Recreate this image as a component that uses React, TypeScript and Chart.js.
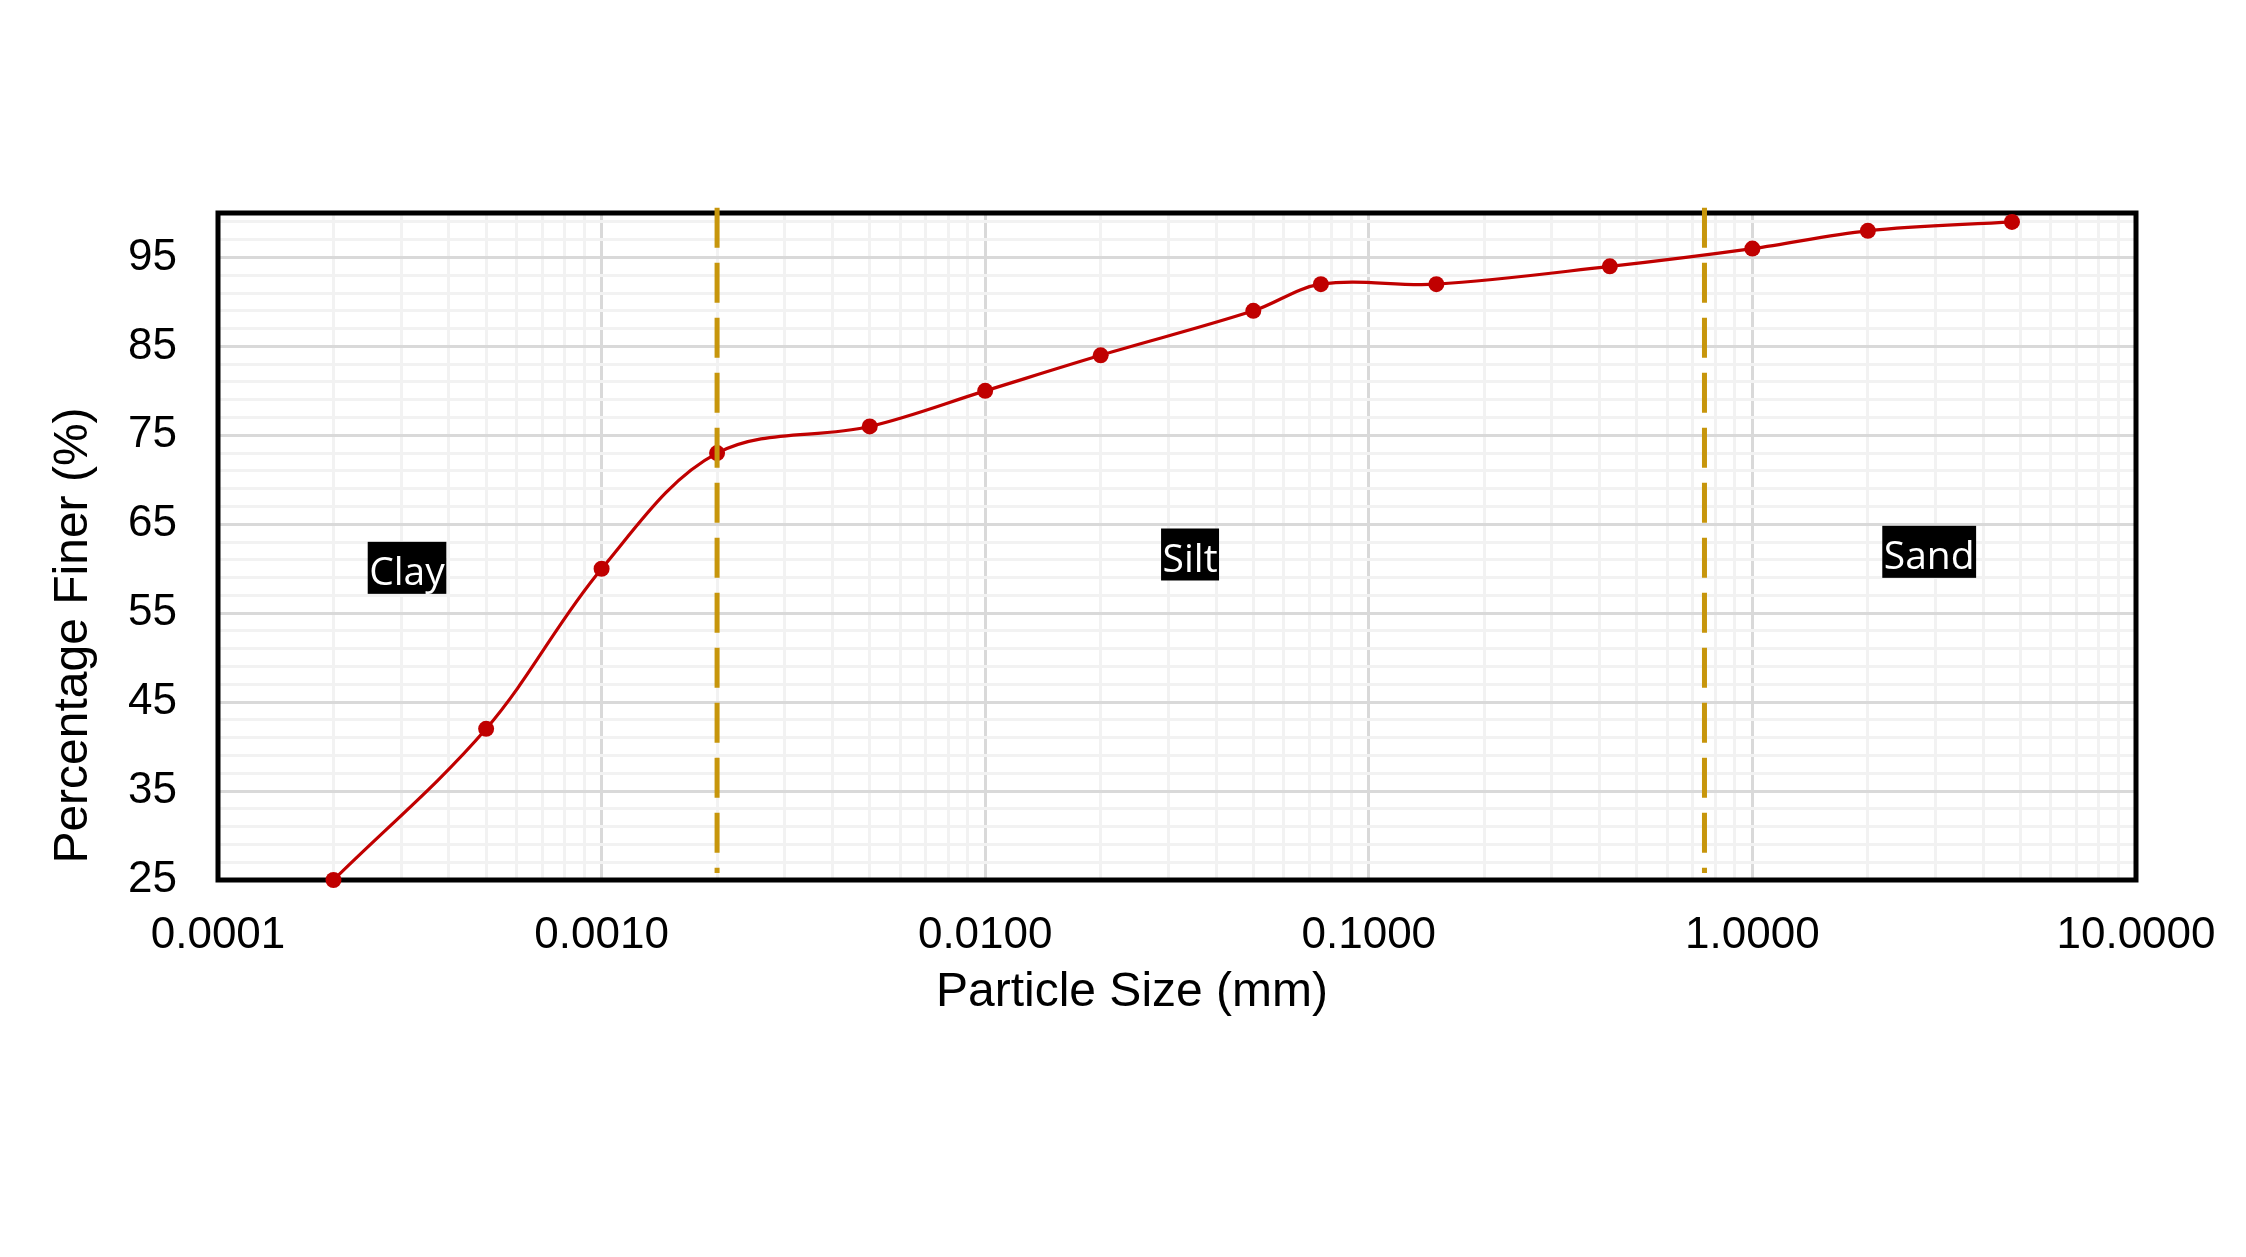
import React, { useEffect, useRef } from 'react';
import { Chart, registerables } from 'chart.js';

Chart.register(...registerables);

// ---- data ----
const particleSizes = [0.0002, 0.0005, 0.001, 0.002, 0.005, 0.01, 0.02, 0.05, 0.075, 0.15, 0.425, 1.0, 2.0, 4.75];
const percentFiner = [25, 42, 60, 73, 76, 80, 84, 89, 92, 92, 94, 96, 98, 99];

const boundarySizes = [0.002, 0.75];
const boundaryExtent = [100.6, 25.8];

const zoneNames = ['Clay', 'Silt', 'Sand'];
const zoneSizes = [0.000311, 0.0342, 2.89];
const zoneFiner = [60.1, 61.6, 61.9];

const xDecades = [0.0001, 0.001, 0.01, 0.1, 1, 10];
const xTickLabels = ['0.0001', '0.0010', '0.0100', '0.1000', '1.0000', '10.0000'];
const xMinorMultipliers = [2, 3, 4, 5, 6, 7, 8, 9];

const yMajorTicks = [25, 35, 45, 55, 65, 75, 85, 95];
const yMinorStep = 2;
const yMin = 25;
const yMax = 100;

const xTitle = 'Particle Size (mm)';
const yTitle = 'Percentage Finer (%)';

const RED = '#C00000';
const GOLD = '#C7960C';
const MAJOR_GRID = '#D9D9D9';
const MINOR_GRID = '#F2F2F2';
const FONT = '"Liberation Sans", Arial, sans-serif';

function isDecade(v: number) {
  return xDecades.some((d) => Math.abs(v - d) / d < 1e-9);
}

const framePlugin = {
  id: 'frameAndLabels',
  beforeDatasetsDraw(chart: any) {
    const { ctx, chartArea: a } = chart;
    ctx.save();
    ctx.strokeStyle = '#000';
    ctx.lineWidth = 5;
    ctx.strokeRect(a.left, a.top, a.right - a.left, a.bottom - a.top);
    ctx.restore();
  },
  afterDraw(chart: any) {
    const { ctx, chartArea: a } = chart;
    const xs = chart.scales.x;
    const ys = chart.scales.y;
    ctx.save();
    ctx.font = '39px "Open Sans", "Noto Sans", sans-serif';
    zoneNames.forEach((name, i) => {
      const cx = xs.getPixelForValue(zoneSizes[i]);
      const cy = ys.getPixelForValue(zoneFiner[i]);
      const w = ctx.measureText(name).width + 3;
      const h = 52;
      ctx.fillStyle = '#000';
      ctx.fillRect(cx - w / 2, cy - h / 2, w, h);
      ctx.fillStyle = '#fff';
      ctx.textAlign = 'center';
      ctx.textBaseline = 'alphabetic';
      ctx.fillText(name, cx, cy - h / 2 + 43);
    });

    ctx.fillStyle = '#000';
    ctx.font = '48px ' + FONT;
    ctx.textAlign = 'center';
    ctx.textBaseline = 'alphabetic';
    ctx.fillText(xTitle, chart.width / 2 + 9, a.bottom + 126);

    ctx.translate(87, a.bottom - 244.5);
    ctx.rotate(-Math.PI / 2);
    ctx.fillText(yTitle, 0, 0);
    ctx.restore();
  },
};

export default function App() {
  const canvasRef = useRef<HTMLCanvasElement | null>(null);

  useEffect(() => {
    document.body.style.margin = '0';
    const canvas = canvasRef.current;
    if (!canvas) return;

    const xTickValues: number[] = [];
    xDecades.forEach((d, i) => {
      xTickValues.push(d);
      if (i < xDecades.length - 1) xMinorMultipliers.forEach((m) => xTickValues.push(d * m));
    });
    const yTickValues: number[] = [];
    for (let v = yMin; v < yMax; v += yMinorStep) yTickValues.push(v);

    const boundaryDatasets = boundarySizes.map((s) => ({
      type: 'line' as const,
      label: 'boundary ' + s,
      data: boundaryExtent.map((y) => ({ x: s, y })),
      borderColor: GOLD,
      borderWidth: 5,
      borderDash: [40, 15],
      borderCapStyle: 'butt' as const,
      pointRadius: 0,
      fill: false,
      tension: 0,
      clip: false as any,
    }));

    const chart = new Chart(canvas, {
      type: 'line',
      data: {
        datasets: [
          ...boundaryDatasets,
          {
            label: 'Percentage Finer',
            data: particleSizes.map((s, i) => ({ x: s, y: percentFiner[i] })),
            borderColor: RED,
            backgroundColor: RED,
            borderWidth: 3.2,
            pointRadius: 8,
            pointBorderWidth: 0,
            pointBackgroundColor: RED,
            fill: false,
            tension: 0.35,
            clip: false as any,
          },
        ],
      },
      options: {
        animation: false,
        responsive: false,
        devicePixelRatio: 1,
        layout: { padding: { left: 0, right: 110, top: 213, bottom: 0 } },
        plugins: {
          legend: { display: false },
          tooltip: { enabled: false },
          title: { display: false },
        },
        scales: {
          x: {
            type: 'logarithmic',
            min: 0.0001,
            max: 10,
            afterBuildTicks: (scale: any) => {
              scale.ticks = xTickValues.map((v) => ({ value: v, major: isDecade(v) }));
            },
            afterFit: (scale: any) => {
              scale.height = 377;
            },
            border: { display: false },
            grid: {
              drawTicks: false,
              lineWidth: 3,
              color: (ctx: any) => (ctx.tick && isDecade(ctx.tick.value) ? MAJOR_GRID : MINOR_GRID),
            },
            ticks: {
              autoSkip: false,
              maxRotation: 0,
              padding: 29,
              color: '#000',
              font: { family: FONT, size: 44 },
              callback: (value: any) => {
                const idx = xDecades.findIndex((d) => Math.abs(Number(value) - d) / d < 1e-9);
                return idx >= 0 ? xTickLabels[idx] : '';
              },
            },
          },
          y: {
            type: 'linear',
            min: yMin,
            max: yMax,
            afterBuildTicks: (scale: any) => {
              scale.ticks = yTickValues.map((v) => ({ value: v }));
            },
            afterFit: (scale: any) => {
              scale.width = 218;
            },
            border: { display: false },
            grid: {
              drawTicks: false,
              lineWidth: 3,
              color: (ctx: any) =>
                ctx.tick && yMajorTicks.includes(ctx.tick.value) ? MAJOR_GRID : MINOR_GRID,
            },
            ticks: {
              autoSkip: false,
              padding: 41,
              color: '#000',
              font: { family: FONT, size: 44 },
              callback: (value: any) => (yMajorTicks.includes(Number(value)) ? String(value) : ''),
            },
          },
        },
      },
      plugins: [framePlugin],
    });

    return () => chart.destroy();
  }, []);

  return (
    <div style={{ width: 2246, height: 1257, background: '#fff' }}>
      <canvas ref={canvasRef} width={2246} height={1257} style={{ display: 'block' }} />
    </div>
  );
}
